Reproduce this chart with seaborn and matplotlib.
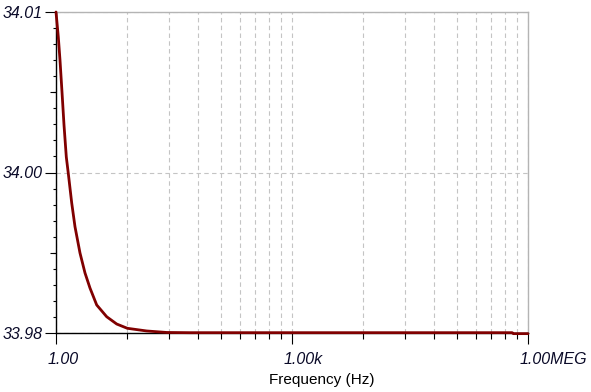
import matplotlib
matplotlib.use("Agg")
import matplotlib.pyplot as plt
import seaborn as sns
import numpy as np
from matplotlib.ticker import FixedLocator, NullFormatter
from matplotlib.transforms import ScaledTranslation

# ---- data ----
freq = [1.0, 1.07, 1.124, 1.192, 1.264, 1.352, 1.433, 1.584, 1.744, 2.018,
        2.337, 2.705, 3.291, 4.41, 5.91, 8.06, 14.2, 25.5, 50, 100,
        1e3, 1e4, 1e5, 5e5, 6.3e5, 6.5e5, 1e6]
value = [34.0100, 34.00766, 34.00551, 34.00252, 33.99944, 33.99645, 33.99492,
         33.99215, 33.98993, 33.98748, 33.98561, 33.98420, 33.98262, 33.98152,
         33.98084, 33.98044, 33.98019, 33.98005, 33.98003, 33.98003, 33.98003,
         33.98003, 33.98003, 33.98003, 33.98003, 33.97994, 33.97994]

x_major = [1, 1e3, 1e6]
x_labels = ["1.00", "1.00k", "1.00MEG"]
y_major = [33.98, 33.995, 34.01]
y_labels = ["33.98", "34.00", "34.01"]
x_label = "Frequency (Hz)"

sns.set_style("white")
plt.rcParams["font.family"] = ["Liberation Sans", "DejaVu Sans"]

W, H = 591, 392
fig = plt.figure(figsize=(W / 100, H / 100), dpi=100)
L, R, T, B = 56, 528, 12, 333
ax = fig.add_axes([L / W, 1 - B / H, (R - L) / W, (B - T) / H])

sns.lineplot(x=freq, y=value, ax=ax, color="#800000", linewidth=2.0,
             clip_on=False, zorder=4, estimator=None, sort=True)

ax.set_xscale("log")
ax.set_xlim(1, 1e6)
ax.set_ylim(33.98, 34.01)

# x ticks
x_minor = [k ** 3 * 1000 ** n for n in range(2) for k in range(2, 10)]
ax.set_xticks(x_major)
ax.set_xticklabels(x_labels)
ax.xaxis.set_minor_locator(FixedLocator(x_minor))
ax.xaxis.set_minor_formatter(NullFormatter())

# y ticks
ax.set_yticks(y_major)
ax.set_yticklabels(y_labels)
y_minor = list(np.arange(33.98, 34.0101, 0.0015))
ax.yaxis.set_minor_locator(FixedLocator(y_minor))
ax.yaxis.set_minor_formatter(NullFormatter())

tick_col = "#000000"
ax.tick_params(axis="both", which="major", direction="out", length=8, width=0.8,
               color=tick_col)
ax.tick_params(axis="x", which="major", pad=5.5, labelsize=11.5,
               labelcolor="#0a0a28")
ax.tick_params(axis="y", which="major", pad=1.5, labelsize=11.5,
               labelcolor="#0a0a28")
ax.tick_params(axis="x", which="minor", direction="out", length=4, width=0.8,
               color=tick_col)
ax.tick_params(axis="y", which="minor", direction="out", length=2.5, width=0.8,
               color=tick_col)
ax.tick_params(left=True, bottom=True, which="both")

for lab in ax.get_xticklabels() + ax.get_yticklabels():
    lab.set_fontstyle("italic")
for lab in ax.get_xticklabels():
    lab.set_horizontalalignment("left")
    lab.set_transform(lab.get_transform() +
                      ScaledTranslation(-8 / 100, 0, fig.dpi_scale_trans))

# medium y ticks
sec = ax.secondary_yaxis("left")
sec.set_yticks([33.9875, 34.0025])
sec.set_yticklabels(["", ""])
sec.tick_params(axis="y", direction="out", length=4.5, width=0.8, color=tick_col)
sec.spines["left"].set_visible(False)

# grid
grid_kw = dict(color="#c4c4c4", linewidth=0.8, linestyle=(0, (4, 3)))
ax.grid(which="major", axis="both", **grid_kw)
ax.grid(which="minor", axis="x", **grid_kw)

# spines
for s in ["left", "bottom"]:
    ax.spines[s].set_color("#000000")
    ax.spines[s].set_linewidth(1.0)
for s in ["top", "right"]:
    ax.spines[s].set_color("#b4b4b4")
    ax.spines[s].set_linewidth(1.0)
    ax.spines[s].set_visible(True)

ax.set_xlabel(x_label, fontsize=11, color="#000000")
ax.xaxis.set_label_coords((322 - L) / (R - L), (B - 380) / (B - T))
ax.xaxis.label.set_verticalalignment("center")

fig.savefig("out.png", dpi=100)
